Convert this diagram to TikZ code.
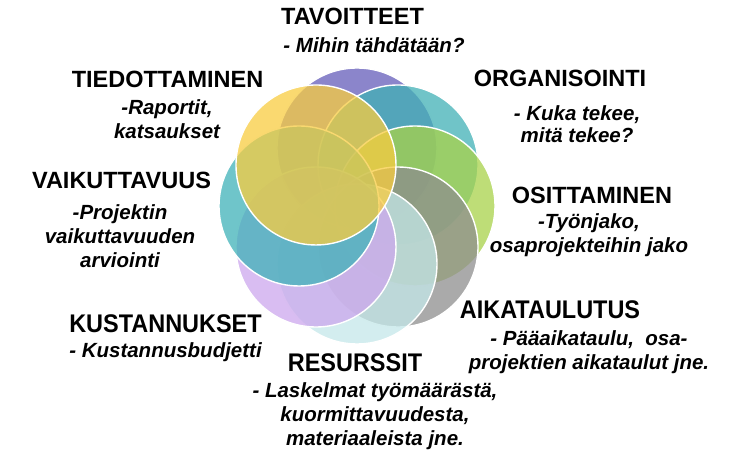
\documentclass[tikz,border=0pt]{standalone}
\usepackage{fontspec}
\setmainfont{Liberation Sans}
\newfontfamily\narrowfont[FakeStretch=0.92]{Liberation Sans}
\usepackage{tikz}
\usetikzlibrary{positioning, calc}
\definecolor{tavcol}{HTML}{645CB9}
\definecolor{orgcol}{HTML}{40B0B5}
\definecolor{osicol}{HTML}{A8D24A}
\definecolor{aikcol}{HTML}{8E8E8E}
\definecolor{rescol}{HTML}{C4E7E9}
\definecolor{kuscol}{HTML}{CCA7ED}
\definecolor{vaicol}{HTML}{3FB2B8}
\definecolor{tiecol}{HTML}{F8CC40}
\newcommand{\headfont}{\fontsize{23.5}{27}\selectfont\bfseries}
\newcommand{\lowheadfont}{\narrowfont\fontsize{25.5}{27}\selectfont\bfseries}
\newcommand{\subfont}{\fontsize{20.5}{24}\selectfont\bfseries\itshape}

\begin{document}
\begin{tikzpicture}[x=1pt, y=1pt,
        ring/.style={circle, draw=white, line width=1.4pt, minimum size=160pt, inner sep=0pt, fill opacity=0.75},
        head/.style={font=\headfont, anchor=base, inner sep=0pt},
        lowhead/.style={head, font=\lowheadfont},
        sub/.style={font=\subfont, align=center, anchor=base, inner sep=0pt}
    ]
        \useasboundingbox (0,0) rectangle (733,454);
        \coordinate (hub) at (357,248);

        % circles, drawn clockwise from the top
        \foreach \ang/\col/\nm in {90/tavcol/tav, 45/orgcol/org, 0/osicol/osi, -45/aikcol/aik, -90/rescol/res, -135/kuscol/kus, 180/vaicol/vai, 135/tiecol/tie}
            \node[ring, fill=\col] (c-\nm) at ($(hub)+(\ang:58)$) {};

        % labels (sub texts sit on the baseline of their last line)
        \node[head] (tav) at (352.5,429) {TAVOITTEET};
        \node[sub] (tav-sub) at (374,401) {- Mihin tähdätään?};
        \node[head] (org) at (560,367) {ORGANISOINTI};
        \node[sub] (org-sub) at (577,311) {- Kuka tekee,\\[-2pt]mitä tekee?};
        \node[head] (osi) at (592,250) {OSITTAMINEN};
        \node[sub] (osi-sub) at (589,201) {-Työnjako,\\osaprojekteihin jako};
        \node[lowhead] (aik) at (550,135) {AIKATAULUTUS};
        \node[sub] (aik-sub) at (589,84) {- Pääaikataulu,\ \ osa-\\projektien aikataulut jne.};
        \node[lowhead] (res) at (355,82) {RESURSSIT};
        \node[sub] (res-sub) at (375,8) {- Laskelmat työmäärästä,\\kuormittavuudesta,\\materiaaleista jne.};
        \node[lowhead] (kus) at (165.5,121) {KUSTANNUKSET};
        \node[sub] (kus-sub) at (165.5,96) {- Kustannusbudjetti};
        \node[head] (vai) at (121.5,265) {VAIKUTTAVUUS};
        \node[sub] (vai-sub) at (120,186) {-Projektin\\vaikuttavuuden\\arviointi};
        \node[head] (tie) at (167.5,366) {TIEDOTTAMINEN};
        \node[sub] (tie-sub) at (167,315) {-Raportit,\\katsaukset};
    \end{tikzpicture}
\end{document}
